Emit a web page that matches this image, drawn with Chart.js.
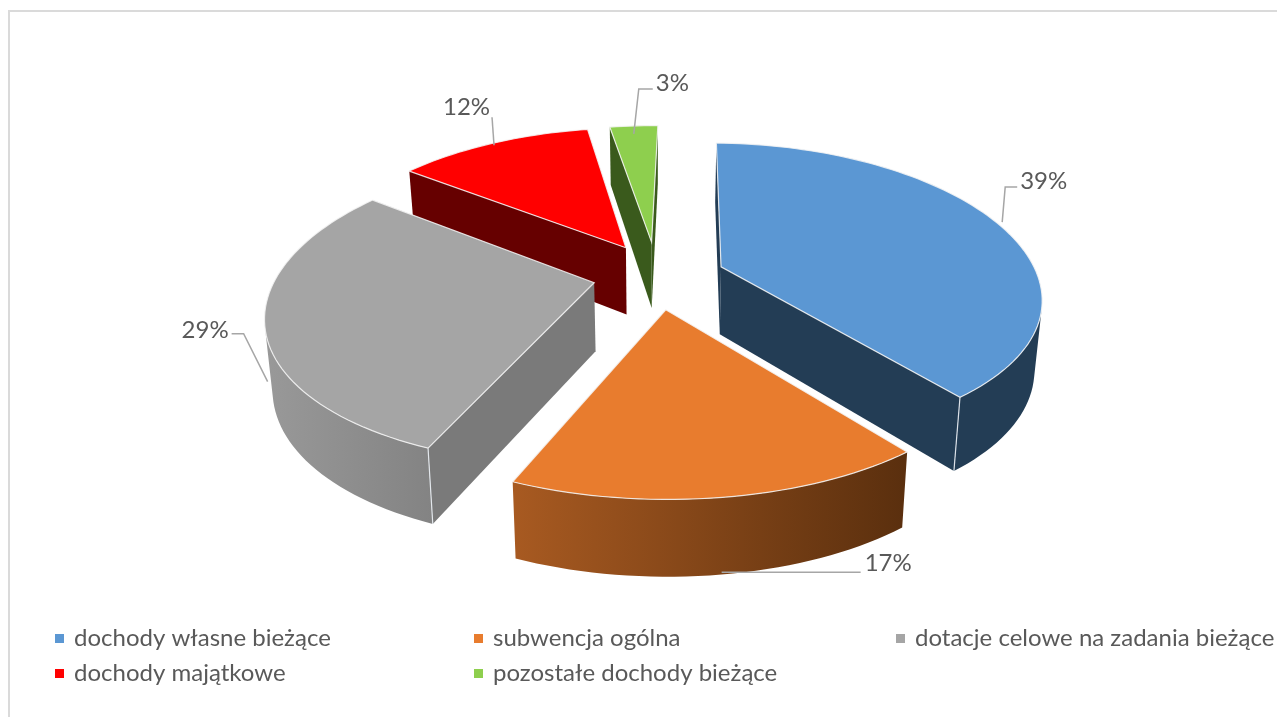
<!DOCTYPE html>
<html lang="pl"><head><meta charset="utf-8">
<style>html,body{margin:0;padding:0;background:#fff}#w{width:1277px;height:717px}canvas{display:block;filter:blur(.45px)}</style>
<script src="https://cdn.jsdelivr.net/npm/chart.js@4"></script></head>
<body><div id="w"><canvas id="c" width="1277" height="717"></canvas></div>
<script>
const categories = ['dochody własne bieżące','subwencja ogólna','dotacje celowe na zadania bieżące','dochody majątkowe','pozostałe dochody bieżące'];
const values = [39,17,29,12,3];
const explode = [69,52,72,65,85];
const topColors = ['#5B97D3','#E87C2E','#A5A5A5','#FF0000','#8ECF4E'];
const cutColors = ['#233D55','#7A3F14','#7A7A7A','#660000','#3A5A1C'];
const wallLeft  = ['#233D55','#A85A21','#999999','#660000','#3A5A1C'];
const wallRight = ['#233D55','#5A2F0E','#6E6E6E','#660000','#3A5A1C'];
const drawOrder = [4,3,2,0,1];
// layout of projection and labels
const CX=658.5, CY=285, RX=317, K=148, PY=0.17, PX=0.19, D0=68, D1=8, TAPER=0.02;
const nudge = [[-2,-8],[0,0],[6,-11],[0,-12],[-1,-5]];
const leaders = [
 [[5,-1],[8,-36],[20,-36]],
 [[-1,75],[138,75]],
 [[3,58],[-21,10],[-33,10]],
 [[1,2],[-1,-26]],
 [[0,8],[5,-37],[19,-37]]
];
const labelPos = [[23,-42],[142,66],[-83,7],[-50,-36],[22,-43]];
const legendCols=[55,474,896], legendRows=[638,673], legendTextDx=19;

function project(nu,nv,h,i){
  let x=CX+RX*nu/(1-PX*nv), y=CY+K*nv/(1-PY*nv);
  if(h){ y+=D0+D1*nv; x=CX+(x-CX)*(1-TAPER); }
  return [x+nudge[i][0],y+nudge[i][1]];
}
function outline(arc){
  const off=arc.options.offset/RX, mid=(arc.startAngle+arc.endAngle)/2;
  const ax=off*Math.cos(mid), ay=off*Math.sin(mid);
  const pts=[[ax,ay]];
  const n=Math.max(6,Math.ceil((arc.endAngle-arc.startAngle)/0.03));
  for(let i=0;i<=n;i++){const a=arc.startAngle+(arc.endAngle-arc.startAngle)*i/n;pts.push([ax+Math.cos(a),ay+Math.sin(a)]);}
  return {pts,mid,ax,ay};
}
function poly(ctx,p){ctx.beginPath();p.forEach((q,i)=>i?ctx.lineTo(q[0],q[1]):ctx.moveTo(q[0],q[1]));ctx.closePath();}
function area(p){let s=0;for(let i=0;i<p.length;i++){const a=p[i],b=p[(i+1)%p.length];s+=a[0]*b[1]-b[0]*a[1];}return s;}

const pie3d={id:'pie3d',
 beforeDatasetDraw(chart){
  const ctx=chart.ctx, arcs=chart.getDatasetMeta(0).data;
  drawOrder.forEach(i=>{
   const o=outline(arcs[i]), top=o.pts.map(q=>project(q[0],q[1],false,i)), bot=o.pts.map(q=>project(q[0],q[1],true,i));
   const xs=top.map(q=>q[0]);
   const g=ctx.createLinearGradient(Math.min(...xs),0,Math.max(...xs),0);
   g.addColorStop(0,wallLeft[i]);g.addColorStop(1,wallRight[i]);
   const m=top.length, vis=[];
   for(let j=0;j<m;j++){
    const k=(j+1)%m; vis[j]=area([top[j],top[k],bot[k],bot[j]])<0;
   }
   [0,m-1].forEach(j=>{ if(vis[j]){const k=(j+1)%m;
     ctx.fillStyle=cutColors[i];poly(ctx,[top[j],top[k],bot[k],bot[j]]);ctx.fill();}});
   let j=1;
   while(j<m-1){
    if(!vis[j]){j++;continue;}
    let e=j; while(e+1<m-1&&vis[e+1])e++;
    const up=top.slice(j,e+2), dn=bot.slice(j,e+2).reverse();
    ctx.fillStyle=g;poly(ctx,up.concat(dn));ctx.fill();
    j=e+1;
   }
   ctx.strokeStyle='rgba(235,240,245,.9)';ctx.lineWidth=1.2;
   [[1,0,1],[m-1,m-2,m-1]].forEach(([pt,a,b])=>{
    if(vis[a]&&vis[b]){ctx.beginPath();ctx.moveTo(top[pt][0],top[pt][1]);ctx.lineTo(bot[pt][0],bot[pt][1]);ctx.stroke();}
   });
   poly(ctx,top);ctx.fillStyle=topColors[i];ctx.fill();
   ctx.strokeStyle='rgba(245,245,245,.85)';ctx.lineWidth=1.2;ctx.stroke();
  });
  return false;
 },
 afterDraw(chart){
  const ctx=chart.ctx, arcs=chart.getDatasetMeta(0).data;
  ctx.save();
  ctx.strokeStyle='#DADADA';ctx.lineWidth=2;
  ctx.beginPath();ctx.moveTo(9,717);ctx.lineTo(9,11);ctx.lineTo(1277,11);ctx.stroke();
  ctx.font='24px Lato';ctx.textBaseline='middle';ctx.textAlign='left';
  arcs.forEach((arc,i)=>{
   const o=outline(arc);
   const an=project(o.ax+Math.cos(o.mid),o.ay+Math.sin(o.mid),false,i);
   ctx.strokeStyle='#A6A6A6';ctx.lineWidth=1.5;ctx.beginPath();
   leaders[i].forEach((d,j)=>{const x=an[0]+d[0],y=an[1]+d[1];j?ctx.lineTo(x,y):ctx.moveTo(x,y);});
   ctx.stroke();
   ctx.fillStyle='#595959';
   ctx.fillText(values[i]+'%',an[0]+labelPos[i][0],an[1]+labelPos[i][1]);
  });
  categories.forEach((t,i)=>{
   const x=legendCols[i%3], y=legendRows[Math.floor(i/3)];
   ctx.fillStyle=topColors[i];ctx.fillRect(x,y-4,9,9);
   ctx.fillStyle='#595959';ctx.fillText(t,x+legendTextDx,y);
  });
  ctx.restore();
 }
};
Chart.defaults.font.family='Lato';
new Chart(document.getElementById('c'),{
 type:'pie',
 data:{labels:categories,datasets:[{data:values,backgroundColor:topColors,offset:explode,borderWidth:0}]},
 options:{responsive:false,animation:false,events:[],rotation:1.2,
  plugins:{legend:{display:false},tooltip:{enabled:false}}},
 plugins:[pie3d]
});
</script></body></html>
